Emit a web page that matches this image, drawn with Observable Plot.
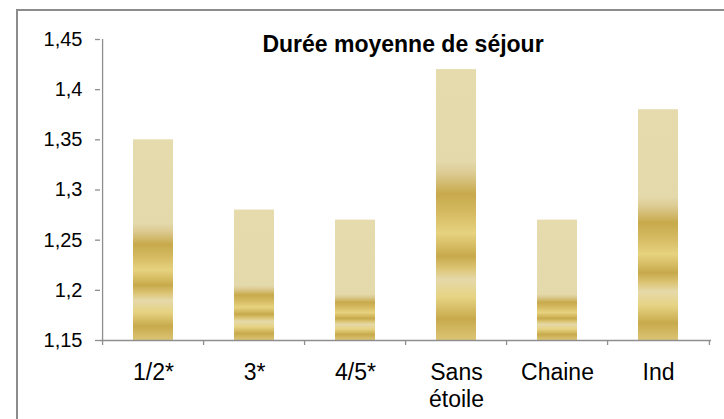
<!DOCTYPE html>
<html><head><meta charset="utf-8">
<script src="https://cdn.jsdelivr.net/npm/d3@7"></script>
<script src="https://cdn.jsdelivr.net/npm/@observablehq/plot@0.6"></script>
<style>
html,body{margin:0;padding:0;background:#fff;overflow:hidden;width:724px;height:419px;}
#frame{position:absolute;left:16px;top:9px;width:900px;height:600px;border-top:2px solid #8c8c8c;border-left:2px solid #8c8c8c;}
#chart{position:absolute;left:0;top:0;}
</style></head><body>
<div id="frame"></div><div id="chart"></div>
<script>
const categories = ["1/2*", "3*", "4/5*", "Sans\nétoile", "Chaine", "Ind"];
const values = [1.35, 1.28, 1.27, 1.42, 1.27, 1.38];
const yTicks = [1.15, 1.2, 1.25, 1.3, 1.35, 1.4, 1.45];
const title = "Durée moyenne de séjour";

const yMin = 1.15, yMax = 1.45;
const axisColor = "#8e8e8e";
const W = 724, H = 419, mL = 100, mR = 13, mT = 39, mB = 79;
const step = (W - mL - mR) / categories.length;
const tickLen = 5 * (yMax - yMin) / (H - mT - mB);
const data = categories.map((c, i) => ({cat: c, value: values[i], i}));
const font = "'Liberation Sans', Arial, sans-serif";

const plot = Plot.plot({
  width: W, height: H,
  marginLeft: mL, marginRight: mR, marginTop: mT, marginBottom: mB,
  style: {fontFamily: font, background: "transparent", overflow: "visible", color: "#000"},
  x: {domain: categories, paddingInner: 0.607, paddingOuter: 0.3035, axis: null, label: null},
  y: {domain: [yMin, yMax], axis: null, label: null},
  color: {type: "identity"},
  marks: [
    Plot.barY(data, {x: "cat", y1: yMin, y2: "value", fill: d => `url(#grad${d.i})`}),
    Plot.ruleY([yMin], {stroke: axisColor, strokeWidth: 1.3}),
    Plot.ruleX([categories[0]], {x: d => d, dx: -step / 2, y1: yMin, y2: yMax, stroke: axisColor, strokeWidth: 1.3}),
    Plot.ruleX(categories, {x: d => d, dx: -step / 2, y1: yMin, y2: yMin - tickLen, stroke: axisColor, strokeWidth: 1.3}),
    Plot.ruleX([categories[categories.length - 1]], {x: d => d, dx: step / 2, y1: yMin, y2: yMin - tickLen, stroke: axisColor, strokeWidth: 1.3}),
    Plot.axisY(yTicks, {tickSize: 5, tickPadding: 13, stroke: axisColor, strokeWidth: 1.3, fontSize: 20, label: null,
      tickFormat: d => String(d).replace(".", ","), fill: "#000"}),
    Plot.axisX(categories, {tickSize: 0, tickPadding: 21, fontSize: 23, lineHeight: 1.15, fill: "#000", label: null}),
    Plot.text([title], {frameAnchor: "top", lineAnchor: "middle", dy: 5, dx: -3, fontSize: 23, fontWeight: "bold", fill: "#000"})
  ]
});

// gradient definitions (per bar, in pixel space from bar top to axis)
const ys = plot.scale("y");
const y0 = ys.apply(yMin);
const bands = [
  [0.00, "#E4D9AB"], [0.06, "#DDCC95"], [0.18, "#C8AA4C"], [0.28, "#D4B960"],
  [0.40, "#E6D27F"], [0.46, "#D9C068"], [0.53, "#C7A94B"], [0.60, "#DCC575"],
  [0.66, "#E5D9A9"], [0.76, "#E6D383"], [0.88, "#C8AA4C"], [1.00, "#DBC474"]
];
const ns = "http://www.w3.org/2000/svg";
const defs = document.createElementNS(ns, "defs");
data.forEach(d => {
  const top = ys.apply(d.value);
  const h = y0 - top;
  const ht = Math.max(20, 0.88 * h - 60);
  const flat = 1 - ht / h;
  const g = document.createElementNS(ns, "linearGradient");
  g.setAttribute("id", `grad${d.i}`);
  g.setAttribute("gradientUnits", "userSpaceOnUse");
  g.setAttribute("x1", 0); g.setAttribute("x2", 0);
  g.setAttribute("y1", top); g.setAttribute("y2", y0);
  const s0 = document.createElementNS(ns, "stop");
  s0.setAttribute("offset", 0); s0.setAttribute("stop-color", "#E5DBAD");
  g.appendChild(s0);
  bands.forEach(([t, c]) => {
    const s = document.createElementNS(ns, "stop");
    s.setAttribute("offset", flat + (1 - flat) * t);
    s.setAttribute("stop-color", c);
    g.appendChild(s);
  });
  defs.appendChild(g);
});
plot.insertBefore(defs, plot.firstChild);
document.getElementById("chart").appendChild(plot);
</script>
</body></html>
